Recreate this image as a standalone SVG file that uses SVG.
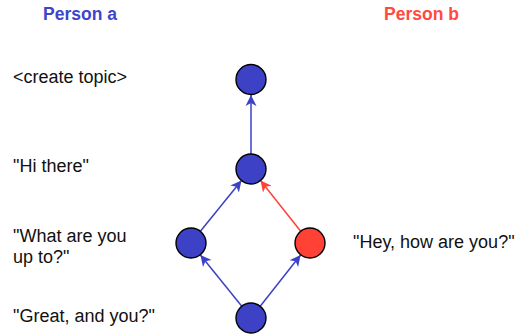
<svg xmlns="http://www.w3.org/2000/svg" width="516" height="336" viewBox="0 0 516 336">
<style>
.t{font-family:"Liberation Sans",Arial,sans-serif;font-size:18px;fill:#111}
.h{font-family:"Liberation Sans",Arial,sans-serif;font-size:17.5px;font-weight:bold}
.n{stroke:#000;stroke-width:1.4}
.b{fill:#3c41c5}
.r{fill:#ff4136}
.eb{stroke:#3c41c5;stroke-width:1.5;fill:none}
.er{stroke:#ff4136;stroke-width:1.5;fill:none}
</style>
<defs>
<marker id="ab" markerUnits="userSpaceOnUse" markerWidth="12" markerHeight="12" viewBox="0 0 12 12" refX="11" refY="6" orient="auto">
<path d="M0,0.5 L11,6 L0,11.5 L3,6 z" fill="#3c41c5"/>
</marker>
<marker id="ar" markerUnits="userSpaceOnUse" markerWidth="12" markerHeight="12" viewBox="0 0 12 12" refX="11" refY="6" orient="auto">
<path d="M0,0.5 L11,6 L0,11.5 L3,6 z" fill="#ff4136"/>
</marker>
</defs>
<g id="headers">
<text class="h" x="43" y="20" fill="#3f44cc">Person a</text>
<text class="h" x="384" y="20" fill="#ff4a40">Person b</text>
</g>
<g id="labels">
<text class="t" x="13" y="83">&lt;create topic&gt;</text>
<text class="t" x="13" y="172">"Hi there"</text>
<text class="t" x="13" y="242">"What are you</text>
<text class="t" x="13" y="263">up to?"</text>
<text class="t" x="13" y="322">"Great, and you?"</text>
<text class="t" x="353" y="248">"Hey, how are you?"</text>
</g>
<g id="connectors">
<line class="eb" x1="251" y1="154" x2="251" y2="95" marker-end="url(#ab)"/>
<line class="eb" x1="200.4" y1="231.3" x2="241.5" y2="180.5" marker-end="url(#ab)"/>
<line class="er" x1="300.7" y1="231.3" x2="260.5" y2="180.5" marker-end="url(#ar)"/>
<line class="eb" x1="241.6" y1="306" x2="200.4" y2="255" marker-end="url(#ab)"/>
<line class="eb" x1="260.4" y1="306" x2="300.6" y2="255" marker-end="url(#ab)"/>
</g>
<g id="node-topic"><circle class="n b" cx="251" cy="79.5" r="15"/></g>
<g id="node-hi"><circle class="n b" cx="251" cy="169" r="15"/></g>
<g id="node-what"><circle class="n b" cx="191" cy="243" r="15"/></g>
<g id="node-hey"><circle class="n r" cx="310" cy="243" r="15"/></g>
<g id="node-great"><circle class="n b" cx="251" cy="318" r="15"/></g>
</svg>
